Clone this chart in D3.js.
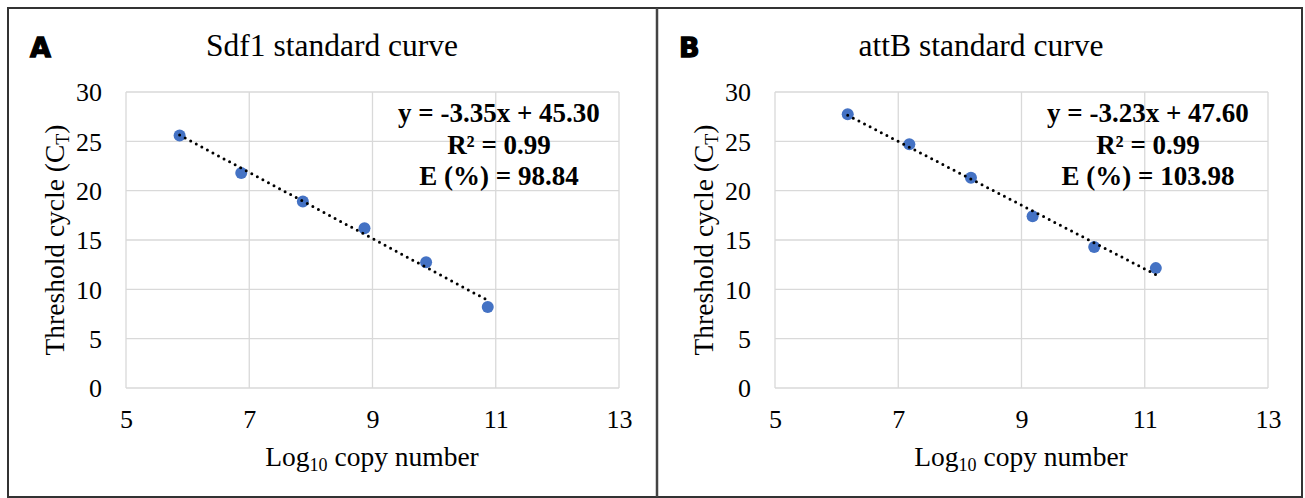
<!DOCTYPE html>
<html>
<head>
<meta charset="utf-8">
<script src="https://cdn.jsdelivr.net/npm/d3@7"></script>
<style>
  body { margin: 0; background: #fff; }
  svg text { font-family: "Liberation Serif", "Times New Roman", serif; fill: #000; }
</style>
</head>
<body>
<div id="chart"></div>
<script>
// data
var sdf1Log = [5.87, 6.87, 7.87, 8.87, 9.87, 10.87];
var sdf1Ct = [25.6, 21.8, 18.9, 16.2, 12.75, 8.2];
var sdf1Fit = [-3.35, 45.30];
var sdf1Lines = ["y = -3.35x + 45.30", "R² = 0.99", "E (%) = 98.84"];

var attbLog = [6.18, 7.18, 8.18, 9.18, 10.18, 11.18];
var attbCt = [27.75, 24.7, 21.3, 17.4, 14.3, 12.15];
var attbFit = [-3.23, 47.60];
var attbLines = ["y = -3.23x + 47.60", "R² = 0.99", "E (%) = 103.98"];

var xTicks = [5, 7, 9, 11, 13];
var yTicks = [0, 5, 10, 15, 20, 25, 30];

var W = 1305, H = 498;

var svg = d3.select("#chart")
  .append("svg")
    .attr("width", W)
    .attr("height", H);

svg.append("rect")
  .attr("width", W).attr("height", H)
  .attr("fill", "#fff");

// outer frame + divider
svg.append("rect")
  .attr("x", 8).attr("y", 8)
  .attr("width", 1294).attr("height", 489)
  .attr("fill", "none")
  .attr("stroke", "#333")
  .attr("stroke-width", 2);
svg.append("line")
  .attr("x1", 657).attr("x2", 657)
  .attr("y1", 8).attr("y2", 497)
  .attr("stroke", "#444")
  .attr("stroke-width", 2.5);

function drawPanel(ox, letter, title, xs, ys, fit, lines) {
  var g = svg.append("g").attr("transform", "translate(" + ox + ",0)");
  var left = 126, right = 619, top = 92, bottom = 388;

  var x = d3.scaleLinear().domain([5, 13]).range([left, right]);
  var y = d3.scaleLinear().domain([0, 30]).range([bottom, top]);

  // gridlines
  g.selectAll(".hgrid")
    .data(yTicks)
    .enter().append("line")
      .attr("x1", left).attr("x2", right)
      .attr("y1", function(d) { return y(d); })
      .attr("y2", function(d) { return y(d); })
      .attr("stroke", "#d9d9d9")
      .attr("stroke-width", 1.3);
  g.selectAll(".vgrid")
    .data(xTicks)
    .enter().append("line")
      .attr("y1", top).attr("y2", bottom)
      .attr("x1", function(d) { return x(d); })
      .attr("x2", function(d) { return x(d); })
      .attr("stroke", "#d9d9d9")
      .attr("stroke-width", 1.3);

  // axes, labels only
  var yAxis = g.append("g")
    .attr("transform", "translate(" + (left - 24) + ",0)")
    .call(d3.axisLeft(y).tickValues(yTicks).tickSize(0).tickPadding(0));
  var xAxis = g.append("g")
    .attr("transform", "translate(0," + (bottom + 22) + ")")
    .call(d3.axisBottom(x).tickValues(xTicks).tickSize(0).tickPadding(0));
  [xAxis, yAxis].forEach(function(a) {
    a.select(".domain").remove();
    a.selectAll("text")
      .attr("font-family", "Liberation Serif")
      .attr("font-size", "26px")
      .attr("fill", "#000");
  });
  yAxis.selectAll("text").attr("dy", "0.34em");
  xAxis.selectAll("text").attr("dy", "0.68em");

  // trendline
  var x0 = d3.min(xs), x1 = d3.max(xs);
  var trend = d3.line()
    .x(function(d) { return x(d); })
    .y(function(d) { return y(fit[0] * d + fit[1]); });

  // points
  g.selectAll(".pt")
    .data(xs)
    .enter().append("circle")
      .attr("cx", function(d) { return x(d); })
      .attr("cy", function(d, i) { return y(ys[i]); })
      .attr("r", 6)
      .attr("fill", "#4472c4");

  // dotted trendline drawn over the points, like Excel does
  g.append("path")
    .datum([x0, x1])
    .attr("d", trend)
    .attr("fill", "none")
    .attr("stroke", "#000")
    .attr("stroke-width", 3)
    .attr("stroke-linecap", "round")
    .attr("stroke-dasharray", "0,6.3");

  // equation box
  g.selectAll(".eq")
    .data(lines)
    .enter().append("text")
      .attr("x", left + 373)
      .attr("y", function(d, i) { return 122 + i * 31.5; })
      .attr("text-anchor", "middle")
      .attr("font-weight", "bold")
      .attr("font-size", "27px")
      .text(function(d) { return d; });

  // panel letter + title
  g.append("text")
    .attr("x", 30).attr("y", 57)
    .attr("font-weight", "bold")
    .attr("font-size", "27px")
    .attr("stroke", "#000")
    .attr("stroke-width", 1.3)
    .style("font-family", "DejaVu Sans")
    .text(letter);
  g.append("text")
    .attr("x", 332).attr("y", 56)
    .attr("text-anchor", "middle")
    .attr("font-size", "31.5px")
    .text(title);

  // x axis title
  var xt = g.append("text")
    .attr("x", 372).attr("y", 466)
    .attr("text-anchor", "middle")
    .attr("font-size", "27.5px");
  xt.append("tspan").text("Log");
  xt.append("tspan").attr("font-size", "18px").attr("dy", "5").text("10");
  xt.append("tspan").attr("dy", "-5").text(" copy number");

  // y axis title
  var yt = g.append("text")
    .attr("transform", "translate(64,240) rotate(-90)")
    .attr("text-anchor", "middle")
    .attr("font-size", "27.5px");
  yt.append("tspan").text("Threshold cycle (C");
  yt.append("tspan").attr("font-size", "18px").attr("dy", "5").text("T");
  yt.append("tspan").attr("dy", "-5").text(")");
}

drawPanel(0, "A", "Sdf1 standard curve", sdf1Log, sdf1Ct, sdf1Fit, sdf1Lines);
drawPanel(649, "B", "attB standard curve", attbLog, attbCt, attbFit, attbLines);
</script>
</body>
</html>
